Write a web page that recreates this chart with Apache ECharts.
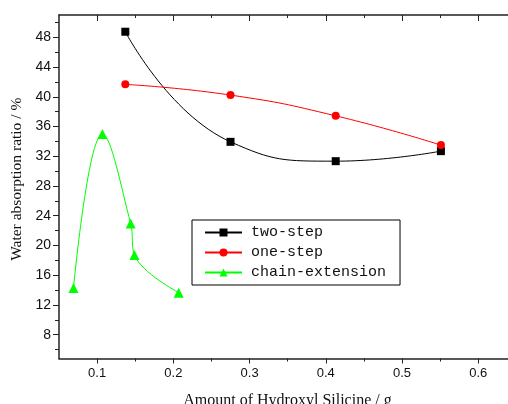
<!DOCTYPE html>
<html>
<head>
<meta charset="utf-8">
<script src="https://cdn.jsdelivr.net/npm/echarts@6/dist/echarts.min.js"></script>
<style>
  html, body { margin: 0; padding: 0; background: #fff; }
  #chart { width: 508px; height: 404px; }
</style>
</head>
<body>
<div id="chart"></div>
<script>
// Water absorption vs. amount of hydroxyl silicone for three synthesis routes
const twoStepX = [0.137, 0.275, 0.413, 0.551];
const twoStepY = [48.75, 33.94, 31.34, 32.69];

const oneStepX = [0.137, 0.275, 0.413, 0.551];
const oneStepY = [41.67, 40.23, 37.44, 33.50];

const chainExtX = [0.069, 0.107, 0.144, 0.149, 0.207];
const chainExtY = [14.28, 34.98, 22.95, 18.72, 13.66];

const xMajorTicks = [0.1, 0.2, 0.3, 0.4, 0.5, 0.6];
const xMinorTicks = [0.15, 0.25, 0.35, 0.45, 0.55];
const yMajorTicks = [8, 12, 16, 20, 24, 28, 32, 36, 40, 44, 48];
const yMinorTicks = [6, 10, 14, 18, 22, 26, 30, 34, 38, 42, 46, 50];

const pairs = (xs, ys) => xs.map((x, i) => [x, ys[i]]);

const axisColor = '#222';
const xRange = { min: 0.05, max: 0.639 };
const yRange = { min: 4.8, max: 51 };

function tickAxis(base, ticks, len, inside) {
  return Object.assign({
    type: 'value',
    axisLine: { show: false },
    axisLabel: { show: false },
    splitLine: { show: false },
    axisTick: { show: true, inside: inside, length: len, customValues: ticks,
                lineStyle: { color: axisColor, width: 1 } }
  }, base);
}

const chart = echarts.init(document.getElementById('chart'), null, { renderer: 'canvas' });

chart.setOption({
  animation: false,
  backgroundColor: '#fff',
  grid: { left: 59, right: 0, top: 15, bottom: 45.5, outerBoundsMode: 'none', containLabel: false },
  legend: {
    orient: 'vertical',
    left: 192, top: 220,
    padding: [5, 14, 5, 12],
    itemGap: 5,
    itemWidth: 37,
    itemHeight: 10,
    borderColor: '#000',
    borderWidth: 1,
    backgroundColor: '#fff',
    textStyle: { fontFamily: 'Liberation Mono', fontSize: 15, color: '#111', padding: [0, 0, 0, 4] },
    data: ['two-step', 'one-step', 'chain-extension']
  },
  xAxis: [
    Object.assign({
      type: 'value', position: 'bottom',
      name: 'Amount of Hydroxyl Silicine / g',
      nameLocation: 'middle', nameGap: 34,
      nameTextStyle: { fontFamily: 'Liberation Serif', fontSize: 16, color: '#111', padding: [0, 0, 0, 8] },
      axisLine: { show: true, onZero: false, lineStyle: { color: axisColor, width: 1.5 } },
      axisTick: { show: true, length: 5, customValues: xMajorTicks, lineStyle: { color: axisColor } },
      axisLabel: { customValues: xMajorTicks, fontFamily: 'Liberation Sans', fontSize: 13, color: '#111', margin: 8,
                   formatter: v => v.toFixed(1) },
      splitLine: { show: false }
    }, xRange),
    tickAxis(Object.assign({ position: 'bottom' }, xRange), xMinorTicks, 3, false),
    Object.assign({
      type: 'value', position: 'top',
      axisLine: { show: true, onZero: false, lineStyle: { color: axisColor, width: 1.5 } },
      axisTick: { show: true, inside: true, length: 6, customValues: xMajorTicks, lineStyle: { color: axisColor } },
      axisLabel: { show: false },
      splitLine: { show: false }
    }, xRange),
    tickAxis(Object.assign({ position: 'top' }, xRange), xMinorTicks, 3, true)
  ],
  yAxis: [
    Object.assign({
      type: 'value', position: 'left',
      name: 'Water absorption ratio / %',
      nameLocation: 'middle', nameGap: 31, nameRotate: 90,
      nameTextStyle: { fontFamily: 'Liberation Serif', fontSize: 15.5, color: '#111', padding: [0, 0, 0, 15] },
      axisLine: { show: true, onZero: false, lineStyle: { color: axisColor, width: 1.5 } },
      axisTick: { show: true, length: 6, customValues: yMajorTicks, lineStyle: { color: axisColor } },
      axisLabel: { customValues: yMajorTicks, fontFamily: 'Liberation Sans', fontSize: 14, color: '#111', margin: 8 },
      splitLine: { show: false }
    }, yRange),
    tickAxis(Object.assign({ position: 'left' }, yRange), yMinorTicks, 4, false)
  ],
  series: [
    {
      name: 'two-step', type: 'line', xAxisIndex: 0, yAxisIndex: 0,
      data: pairs(twoStepX, twoStepY),
      smooth: 0.5,
      symbol: 'rect', symbolSize: 8,
      lineStyle: { color: '#000', width: 1 },
      itemStyle: { color: '#000' }
    },
    {
      name: 'one-step', type: 'line', xAxisIndex: 0, yAxisIndex: 0,
      data: pairs(oneStepX, oneStepY),
      smooth: 0.5,
      symbol: 'circle', symbolSize: 8,
      lineStyle: { color: '#ff0000', width: 1 },
      itemStyle: { color: '#ff0000' }
    },
    {
      name: 'chain-extension', type: 'line', xAxisIndex: 0, yAxisIndex: 0,
      data: pairs(chainExtX, chainExtY),
      smooth: 0.4,
      symbol: 'triangle', symbolSize: 10,
      lineStyle: { color: '#00ff00', width: 1 },
      itemStyle: { color: '#00ff00' }
    }
  ]
});
</script>
</body>
</html>
